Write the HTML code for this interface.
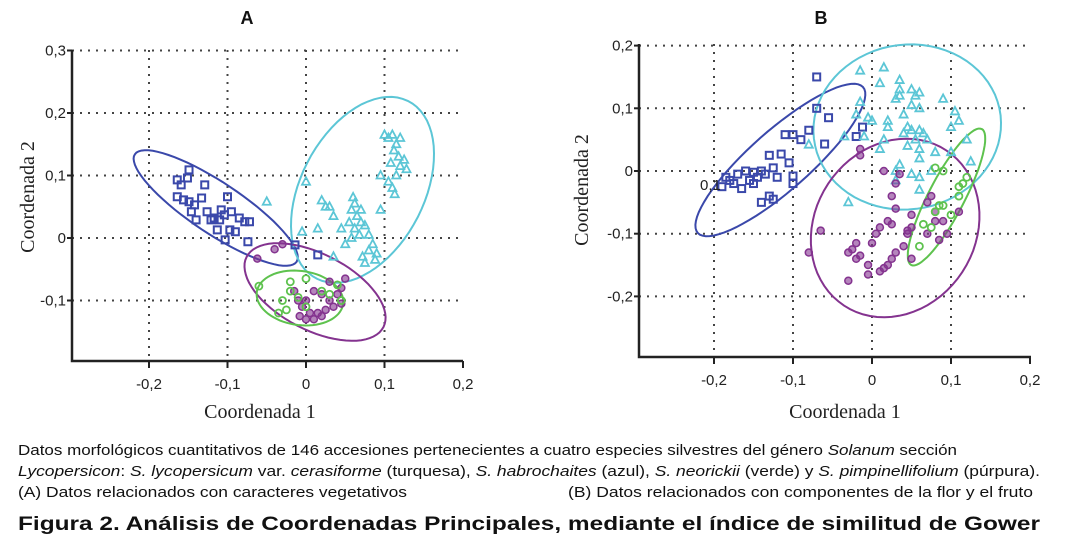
<!DOCTYPE html>
<html><head><meta charset="utf-8">
<style>
body{margin:0;background:#fff;}
svg{display:block;font-family:"Liberation Sans",sans-serif;}
.cap{font-size:15px;fill:#111;}
</style></head>
<body>
<svg id="fig" width="1066" height="549" viewBox="0 0 1066 549" xmlns="http://www.w3.org/2000/svg">
<g id="panelA"></g>
<g id="panelB"></g>
<g>
<text class="cap" x="18" y="455" textLength="939" lengthAdjust="spacingAndGlyphs">Datos morfológicos cuantitativos de 146 accesiones pertenecientes a cuatro especies silvestres del género <tspan font-style="italic">Solanum</tspan> sección</text>
<text class="cap" x="18" y="476" textLength="1022" lengthAdjust="spacingAndGlyphs"><tspan font-style="italic">Lycopersicon</tspan>: <tspan font-style="italic">S. lycopersicum</tspan> var. <tspan font-style="italic">cerasiforme</tspan> (turquesa), <tspan font-style="italic">S. habrochaites</tspan> (azul), <tspan font-style="italic">S. neorickii</tspan> (verde) y <tspan font-style="italic">S. pimpinellifolium</tspan> (púrpura).</text>
<text class="cap" x="18" y="497" textLength="389" lengthAdjust="spacingAndGlyphs">(A) Datos relacionados con caracteres vegetativos</text>
<text class="cap" x="568" y="497" textLength="465" lengthAdjust="spacingAndGlyphs">(B) Datos relacionados con componentes de la flor y el fruto</text>
<text x="18" y="530" font-size="19" font-weight="bold" fill="#111" textLength="1022" lengthAdjust="spacingAndGlyphs">Figura 2. Análisis de Coordenadas Principales, mediante el índice de similitud de Gower</text>
</g>
</svg>
<script>
// ---------- Panel A data ----------
const aXTicks=[-0.2,-0.1,0,0.1,0.2];
const aXTickLabels=["-0,2","-0,1","0","0,1","0,2"];
const aYTicks=[0.3,0.2,0.1,0,-0.1];
const aYTickLabels=["0,3","0,2","0,1","0","-0,1"];
const aBlue=[[-0.164,0.093],[-0.159,0.085],[-0.149,0.109],[-0.151,0.096],[-0.164,0.066],[-0.156,0.061],[-0.149,0.058],[-0.142,0.053],[-0.129,0.085],[-0.133,0.064],[-0.126,0.042],[-0.117,0.032],[-0.121,0.029],[-0.110,0.029],[-0.100,0.066],[-0.104,0.037],[-0.095,0.042],[-0.085,0.032],[-0.078,0.026],[-0.072,0.026],[-0.113,0.013],[-0.097,0.013],[-0.090,0.010],[-0.103,-0.003],[-0.074,-0.006],[-0.014,-0.011],[0.015,-0.027],[-0.146,0.042],[-0.140,0.029],[-0.108,0.045]];
const aCyan=[[0.10,0.165],[0.105,0.16],[0.11,0.165],[0.12,0.16],[0.115,0.15],[0.112,0.14],[0.118,0.13],[0.125,0.125],[0.108,0.12],[0.12,0.115],[0.128,0.11],[0.115,0.10],[0.095,0.10],[0.11,0.08],[0.113,0.07],[0.105,0.09],[0.06,0.065],[0.062,0.055],[0.058,0.045],[0.065,0.035],[0.055,0.025],[0.07,0.025],[0.075,0.02],[0.062,0.015],[0.068,0.005],[0.058,0.0],[0.08,0.005],[0.085,-0.01],[0.08,-0.02],[0.072,-0.03],[0.09,-0.025],[0.088,-0.035],[0.075,-0.04],[0.095,0.045],[0.07,0.045],[0.045,0.015],[0.03,0.05],[0.035,0.035],[0.02,0.06],[0.025,0.05],[0.0,0.09],[-0.005,0.01],[0.015,0.015],[-0.05,0.058],[0.035,-0.03],[0.05,-0.01]];
const aPurple=[[-0.04,-0.018],[-0.062,-0.033],[0.05,-0.065],[0.045,-0.08],[0.03,-0.1],[0.02,-0.09],[0.01,-0.085],[0.0,-0.1],[-0.005,-0.11],[0.005,-0.12],[0.015,-0.12],[0.025,-0.115],[0.035,-0.11],[0.04,-0.09],[-0.01,-0.1],[-0.015,-0.085],[0.0,-0.13],[0.01,-0.13],[0.02,-0.125],[-0.03,-0.01],[0.03,-0.07],[0.045,-0.105],[-0.008,-0.125]];
const aGreen=[[-0.06,-0.077],[-0.02,-0.085],[-0.03,-0.1],[-0.035,-0.12],[-0.025,-0.115],[0.0,-0.065],[0.02,-0.085],[0.04,-0.075],[0.045,-0.1],[0.0,-0.11],[0.03,-0.09],[-0.02,-0.07],[-0.01,-0.095]];
// ellipses: [cx, cy, ux, uy, vx, vy] in data units
const aEllBlue=[-0.115,0.048,0.103,-0.086,-0.018,-0.034];
const aEllCyan=[0.072,0.077,0.0577,0.1424,0.0705,-0.0432];
const aEllPurple=[0.0115,-0.0864,0.0872,-0.056,-0.0218,-0.0544];
const aEllGreen=[-0.0077,-0.096,0.0551,-0.008,-0.0026,-0.0432];

// ---------- Panel B data ----------
const bXTicks=[-0.2,-0.1,0,0.1,0.2];
const bXTickLabels=["-0,2","-0,1","0","0,1","0,2"];
const bYTicks=[0.2,0.1,0,-0.1,-0.2];
const bYTickLabels=["0,2","0,1","0","-0,1","-0,2"];
const bBlue=[[-0.07,0.15],[-0.07,0.1],[-0.055,0.085],[-0.08,0.065],[-0.1,0.058],[-0.11,0.058],[-0.09,0.05],[-0.06,0.043],[-0.02,0.055],[-0.012,0.07],[-0.13,0.025],[-0.115,0.027],[-0.105,0.013],[-0.125,0.005],[-0.14,0.0],[-0.15,-0.002],[-0.16,0.0],[-0.17,-0.005],[-0.18,-0.015],[-0.19,-0.025],[-0.175,-0.02],[-0.165,-0.028],[-0.155,-0.015],[-0.145,-0.01],[-0.135,-0.005],[-0.12,-0.01],[-0.1,-0.02],[-0.1,-0.008],[-0.13,-0.04],[-0.14,-0.05],[-0.125,-0.045],[-0.15,-0.02],[-0.185,-0.01]];
const bCyan=[[0.015,0.165],[-0.015,0.16],[0.01,0.14],[0.035,0.145],[0.035,0.13],[0.035,0.12],[0.03,0.115],[0.05,0.13],[0.055,0.12],[0.06,0.125],[0.05,0.105],[0.06,0.1],[0.09,0.115],[0.105,0.095],[0.11,0.08],[0.1,0.07],[-0.015,0.11],[-0.02,0.09],[-0.005,0.085],[0.0,0.08],[0.02,0.08],[0.02,0.07],[0.04,0.09],[0.045,0.07],[0.05,0.065],[0.04,0.06],[0.06,0.065],[0.065,0.06],[0.055,0.05],[0.045,0.04],[0.07,0.05],[-0.035,0.055],[-0.01,0.055],[0.015,0.05],[0.01,0.035],[-0.08,0.042],[0.06,0.035],[0.06,0.02],[0.08,0.03],[0.1,0.03],[0.12,0.05],[0.125,0.015],[0.035,0.01],[0.03,0.0],[0.05,-0.005],[0.06,-0.01],[0.075,0.0],[0.06,-0.03],[0.03,-0.015],[-0.03,-0.05]];
const bPurple=[[-0.015,0.035],[-0.015,0.025],[0.015,0.0],[0.035,-0.005],[0.03,-0.02],[0.025,-0.04],[0.03,-0.06],[0.05,-0.07],[0.07,-0.05],[0.075,-0.04],[0.08,-0.065],[0.08,-0.08],[0.09,-0.08],[0.11,-0.065],[0.095,-0.1],[0.085,-0.11],[0.07,-0.1],[0.045,-0.1],[0.04,-0.12],[0.03,-0.13],[0.025,-0.085],[0.01,-0.09],[0.005,-0.1],[0.0,-0.115],[-0.02,-0.115],[-0.025,-0.125],[-0.03,-0.13],[-0.015,-0.135],[-0.02,-0.14],[-0.005,-0.15],[0.01,-0.16],[0.015,-0.155],[0.02,-0.15],[0.025,-0.14],[-0.03,-0.175],[-0.005,-0.165],[-0.065,-0.095],[-0.08,-0.13],[0.045,-0.095],[0.05,-0.14],[0.05,-0.09],[0.02,-0.08]];
const bGreen=[[0.09,0.0],[0.12,-0.01],[0.115,-0.02],[0.11,-0.025],[0.085,-0.055],[0.09,-0.055],[0.08,-0.065],[0.1,-0.07],[0.065,-0.085],[0.06,-0.12],[0.075,-0.09],[0.11,-0.04],[0.08,0.005]];
const bEllBlue=[-0.116,0.0175,0.1045,0.1164,0.0255,-0.0351];
const bEllCyan=[0.0446,0.0702,0.1172,-0.016,-0.0191,-0.1308];
const bEllPurple=[0.0293,-0.0909,0.0318,0.1404,0.1019,-0.0239];
const bEllGreen=[0.0943,-0.0415,0.0446,0.1085,0.0204,-0.0128];

const NS="http://www.w3.org/2000/svg";
const C={blue:"#3a48aa",cyan:"#5cc6d6",purple:"#84338f",green:"#5ec24e"};
function mk(tag,attrs,parent){const e=document.createElementNS(NS,tag);for(const k in attrs)e.setAttribute(k,attrs[k]);parent.appendChild(e);return e;}

function panel(g,cfg){
  const sx=v=>cfg.x0+v*cfg.kx, sy=v=>cfg.y0-v*cfg.ky;
  cfg.yt.forEach((t,i)=>{
    const l=mk('line',{x1:cfg.left,x2:cfg.right,y1:sy(t),y2:sy(t),stroke:'#444','stroke-width':2,'stroke-dasharray':'2 6'},g);
    
    
    const tk=mk('line',{x1:cfg.left-5,x2:cfg.left,y1:sy(t),y2:sy(t),stroke:'#222','stroke-width':2},g);
    
    
    const tx=mk('text',{x:cfg.left-6,y:sy(t)+5,'text-anchor':'end','font-size':15,fill:'#222'},g);
    tx.textContent=cfg.ytl[i];
    
    
  });
  cfg.xt.forEach((t,i)=>{
    if(i<cfg.xt.length-1){
      const l=mk('line',{x1:sx(t),x2:sx(t),y1:cfg.top,y2:cfg.bottom,stroke:'#444','stroke-width':2,'stroke-dasharray':'2 6'},g);
      
      
    }
    const tk=mk('line',{x1:sx(t),x2:sx(t),y1:cfg.bottom,y2:cfg.bottom+7,stroke:'#222','stroke-width':2},g);
    
    
    const tx=mk('text',{x:sx(t),y:cfg.bottom+28,'text-anchor':'middle','font-size':15,fill:'#222'},g);
    tx.textContent=cfg.xtl[i];
    
    
  });
  const ax=mk('path',{d:`M${cfg.left},${cfg.top} V${cfg.bottom} H${cfg.right}`,fill:'none',stroke:'#222','stroke-width':2.5},g);
  
  
  cfg.ells.forEach(([e,col,nm])=>{
    let d='';
    for(let i=0;i<=72;i++){const a=i/72*2*Math.PI;const x=e[0]+e[2]*Math.cos(a)+e[4]*Math.sin(a);const y=e[1]+e[3]*Math.cos(a)+e[5]*Math.sin(a);d+=(i?'L':'M')+sx(x).toFixed(1)+','+sy(y).toFixed(1);}
    const p=mk('path',{d:d+'Z',fill:'none',stroke:C[col],'stroke-width':2},g);
    
    
  });
  cfg.pts.forEach(([arr,col,shape])=>{
    arr.forEach(([x,y])=>{
      const px=sx(x),py=sy(y);let m;
      if(shape==='sq') m=mk('rect',{x:px-3.5,y:py-3.5,width:7,height:7,fill:'none',stroke:C[col],'stroke-width':2},g);
      else if(shape==='tri') m=mk('path',{d:`M${px},${py-4.5}L${px+4},${py+3}L${px-4},${py+3}Z`,fill:'none',stroke:C[col],'stroke-width':1.8},g);
      else if(shape==='fc') m=mk('circle',{cx:px,cy:py,r:3.5,fill:C[col],'fill-opacity':0.6,stroke:C[col],'stroke-width':1.5},g);
      else m=mk('circle',{cx:px,cy:py,r:3.5,fill:'none',stroke:C[col],'stroke-width':1.8},g);
      
      
    });
  });
  const t=mk('text',{x:cfg.titleX,y:24,'text-anchor':'middle','font-size':18,'font-weight':'bold',fill:'#111'},g);
  t.textContent=cfg.title;
  
  
  const xt=mk('text',{x:cfg.xTitleX,y:418,'text-anchor':'middle','font-size':20,'font-family':'Liberation Serif, serif',fill:'#222'},g);
  xt.textContent='Coordenada 1';
  
  
  const yt=mk('text',{x:0,y:0,'text-anchor':'middle','font-size':20,'font-family':'Liberation Serif, serif',fill:'#222',transform:`translate(${cfg.yTitleX},${cfg.yTitleY}) rotate(-90)`},g);
  yt.textContent='Coordenada 2';
  
  
}

panel(document.getElementById('panelA'),{x0:306,kx:785,y0:238,ky:625,left:72,right:463,top:50,bottom:361,
  xt:aXTicks,xtl:aXTickLabels,yt:aYTicks,ytl:aYTickLabels,title:'A',titleX:247,xTitleX:260,yTitleX:34,yTitleY:197,
  ells:[[aEllBlue,'blue','ellipse-blue'],[aEllCyan,'cyan','ellipse-cyan'],[aEllPurple,'purple','ellipse-purple'],[aEllGreen,'green','ellipse-green']],
  pts:[[aBlue,'blue','sq'],[aCyan,'cyan','tri'],[aPurple,'purple','fc'],[aGreen,'green','oc']]});
panel(document.getElementById('panelB'),{x0:872,kx:790,y0:171,ky:627,left:639,right:1031,top:44,bottom:357,
  xt:bXTicks,xtl:bXTickLabels,yt:bYTicks,ytl:bYTickLabels,title:'B',titleX:821,xTitleX:845,yTitleX:588,yTitleY:190,
  ells:[[bEllBlue,'blue','ellipse-blue'],[bEllCyan,'cyan','ellipse-cyan'],[bEllPurple,'purple','ellipse-purple'],[bEllGreen,'green','ellipse-green']],
  pts:[[bBlue,'blue','sq'],[bCyan,'cyan','tri'],[bPurple,'purple','fc'],[bGreen,'green','oc']]});
const ann=mk('text',{x:700,y:190,'font-size':15,fill:'#222'},document.getElementById('panelB'));
ann.textContent='0,1';


</script>
</body></html>
